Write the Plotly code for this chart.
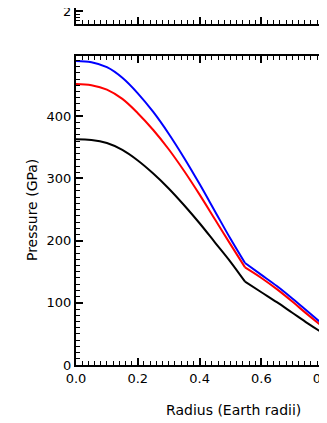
import plotly.graph_objects as go

# radius (Earth radii) and pressure (GPa)
# core part runs up to the kink at 0.547, mantle part starts there
r_core = [0.0, 0.05, 0.1, 0.15, 0.2, 0.25, 0.3, 0.35, 0.4, 0.45, 0.5, 0.547]
r_mantle = [0.547, 0.6, 0.65, 0.7, 0.75, 0.8, 0.85]

blue_core = [489, 487, 479, 462, 437, 407, 372, 333, 291, 247, 203, 164]
blue_mantle = [164, 145, 127, 107, 86, 65, 44]
red_core = [452, 450, 443, 428, 405, 378, 347, 312, 274, 234, 194, 157]
red_mantle = [157, 140, 122, 102, 81, 61, 40]
black_core = [363, 362, 357, 346, 329, 308, 284, 257, 228, 197, 166, 134]
black_mantle = [134, 117, 101, 84, 67, 51, 36]

x_ticks = [0.0, 0.2, 0.4, 0.6, 0.8]
y_ticks = [0, 100, 200, 300, 400]

FONT = "DejaVu Sans"

fig = go.Figure()
for core, mantle, c in [(black_core, black_mantle, "black"),
                        (red_core, red_mantle, "red"),
                        (blue_core, blue_mantle, "blue")]:
    for xs, ys in [(r_core, core), (r_mantle, mantle)]:
        fig.add_trace(go.Scatter(x=xs, y=ys, mode="lines",
                                 line=dict(color=c, width=2, shape="spline", smoothing=1),
                                 showlegend=False, xaxis="x", yaxis="y"))

# empty trace to carry the panel above (cut off in the picture)
fig.add_trace(go.Scatter(x=[], y=[], xaxis="x2", yaxis="y2", showlegend=False))

xr = [0, 0.8123]
common = dict(showline=True, linecolor="black", linewidth=2, ticks="inside",
              tickcolor="black", tickwidth=1.5, showgrid=False, zeroline=False,
              automargin=False, ticklabeloverflow="allow",
              tickfont=dict(family=FONT, size=13, color="black"))
minor_x = dict(dtick=0.02, tick0=0, ticks="inside", ticklen=4,
               tickwidth=1, tickcolor="black", showgrid=False)

# page body has an 8px margin, so the figure is a bit smaller than the window
fig.update_layout(
    width=319, height=415,
    margin=dict(l=68, r=0, t=0, b=58, autoexpand=False),
    plot_bgcolor="white", paper_bgcolor="white",
    xaxis=dict(common, domain=[0, 1], range=xr, tickvals=x_ticks, ticklen=7,
               tickformat=".1f", mirror="ticks", anchor="y", minor=minor_x),
    yaxis=dict(common, domain=[0, 0.8655], range=[0, 497], tickvals=y_ticks,
               ticklen=7, anchor="x",
               minor=dict(dtick=10, tick0=0, ticks="inside", ticklen=4,
                          tickwidth=1, tickcolor="black", showgrid=False)),
    xaxis2=dict(common, domain=[0, 1], range=xr, tickvals=x_ticks, ticklen=7,
                showticklabels=False, anchor="y2", minor=minor_x),
    yaxis2=dict(common, domain=[0.9552, 1], range=[1.921, 2.018], tickvals=[2],
                ticklen=7, anchor="x2",
                minor=dict(dtick=0.02, tick0=0, ticks="inside", ticklen=4,
                           tickwidth=1, tickcolor="black", showgrid=False)),
    annotations=[
        dict(text="Pressure (GPa)", textangle=-90, xref="paper", yref="paper",
             x=-0.1753, y=0.434, xanchor="center", yanchor="middle",
             showarrow=False, font=dict(family=FONT, size=14, color="black")),
        dict(text="Radius (Earth radii)", xref="paper", yref="paper",
             x=0.6255, y=-0.126, xanchor="center", yanchor="middle",
             showarrow=False, font=dict(family=FONT, size=14, color="black")),
    ],
)

fig.write_html("out.html")
